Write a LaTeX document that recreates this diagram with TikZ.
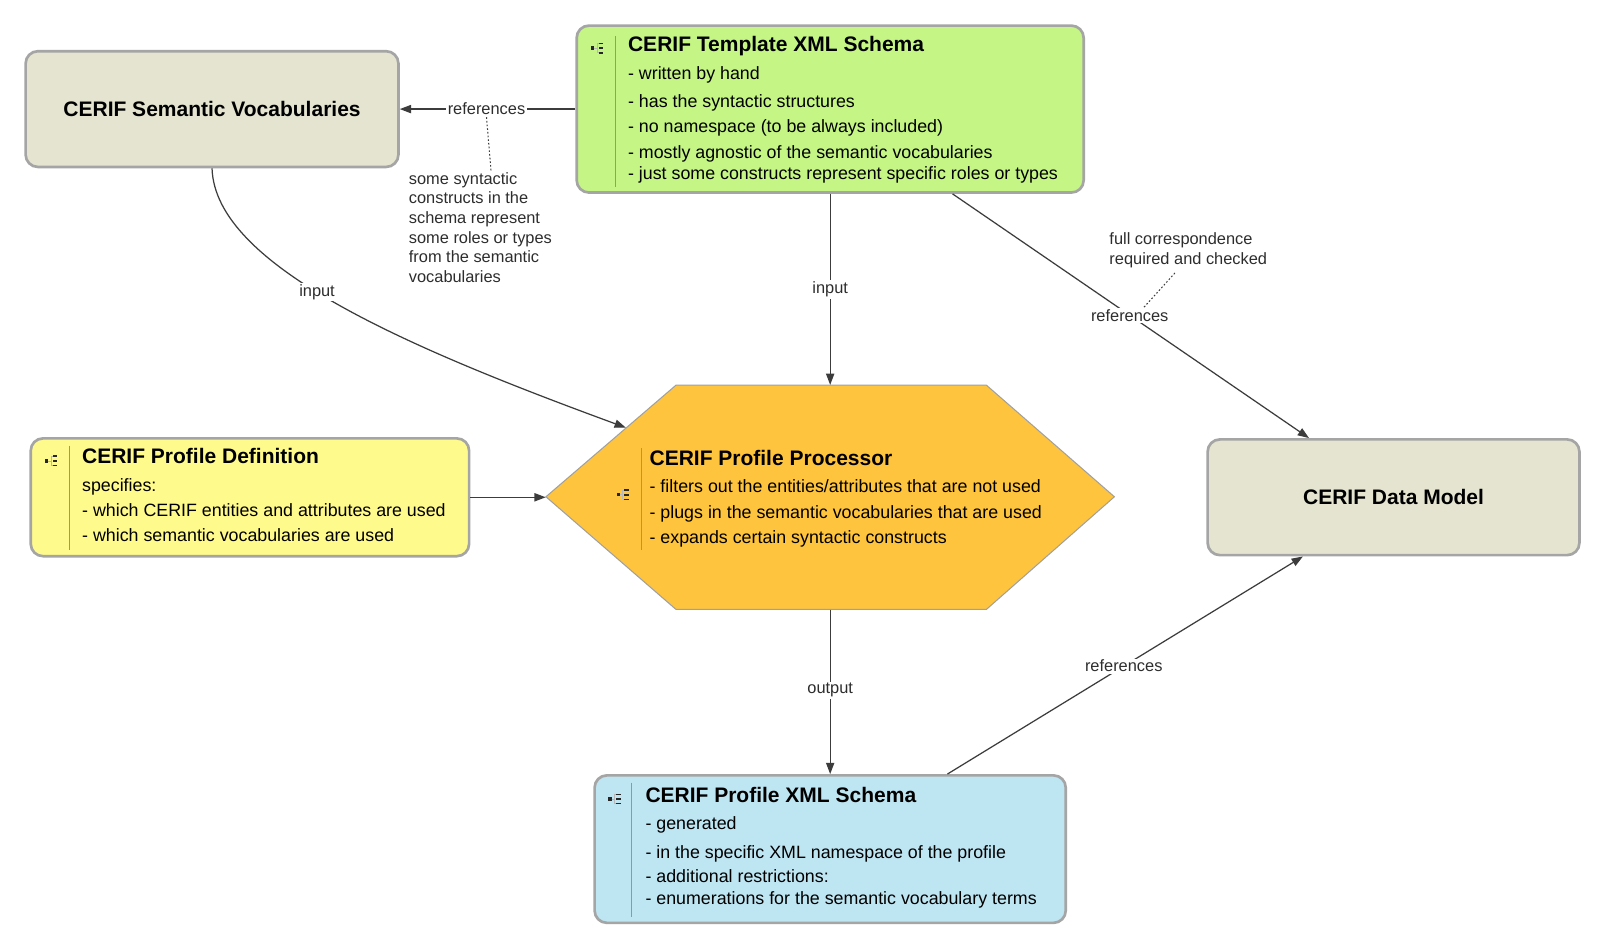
\documentclass[tikz,border=0pt]{standalone}
\usepackage{fontspec}
\setmainfont{Liberation Sans}
\usetikzlibrary{arrows.meta,calc}
\definecolor{svfill}{RGB}{228,228,208}
\definecolor{tplfill}{RGB}{196,245,133}
\definecolor{pdfill}{RGB}{255,250,140}
\definecolor{procfill}{RGB}{254,196,62}
\definecolor{pxfill}{RGB}{190,229,242}
\definecolor{boxgray}{RGB}{165,165,165}
\definecolor{hexgray}{RGB}{160,160,160}
\definecolor{linegray}{RGB}{60,60,60}
\definecolor{labgray}{RGB}{45,45,45}
\definecolor{sepgray}{RGB}{150,150,150}
\begin{document}
\begin{tikzpicture}[x=1pt,y=-1pt,
  box/.style={draw=boxgray, line width=2.6pt, rounded corners=12pt, inner sep=0pt},
  bigttl/.style={font=\fontsize{20.5}{24}\selectfont\bfseries, text=black},
  ttl/.style={font=\fontsize{20.5}{24}\selectfont\bfseries, text=black, inner sep=0pt, anchor=base west},
  bl/.style={font=\fontsize{17.4}{20}\selectfont, text=black, inner sep=0pt, anchor=base west},
  lbl/.style={font=\fontsize{16}{19.2}\selectfont, text=labgray, fill=white, inner sep=1.5pt},
  conn/.style={draw=linegray, line width=1.2pt},
  arr/.style={conn, -{Triangle[length=11pt,width=8pt]}},
  note/.style={font=\fontsize{16}{19.2}\selectfont, text=labgray, align=left, inner sep=0pt},
  dotconn/.style={draw=linegray, line width=1pt, dash pattern=on 1.6pt off 2pt},
  sepl/.style={draw=sepgray, line width=1pt},
  icon/.pic={
    \fill[black!85] (-6,-1.6) rectangle (-2.8,1.6);
    \draw[gray!55, line width=0.6pt] (-2.8,0) -- (0,0) (0,-4.5) -- (0,4.5) (0,-4.5) -- (1.5,-4.5) (0,4.5) -- (1.5,4.5);
    \fill[black!85] (1.5,-5.3) rectangle (6,-3.7);
    \fill[black!85] (1.5,-0.8) rectangle (6,0.8);
    \fill[black!85] (1.5,3.7) rectangle (6,5.3);
  }
]
\useasboundingbox (0,0) rectangle (1566,925);
\fill[white] (0,0) rectangle (1566,925);

% ---------- boxes ----------
\node[box, fill=svfill, minimum width=364pt, minimum height=113pt] (sv) at (207,106.5) {};
\node[bigttl] (svt) at (sv.center) {CERIF Semantic Vocabularies};

\node[box, fill=tplfill, minimum width=495pt, minimum height=163pt] (tpl) at (810.5,106.5) {};
\node[box, fill=pdfill, minimum width=428pt, minimum height=115pt] (pd) at (244,485.5) {};
\node[box, fill=svfill, minimum width=363pt, minimum height=113pt] (dm) at (1360.5,485.5) {};
\node[bigttl] (dmt) at (dm.center) {CERIF Data Model};
\node[box, fill=pxfill, minimum width=460pt, minimum height=144pt] (px) at (810.5,829) {};

% hexagon
\filldraw[fill=procfill, draw=hexgray, line width=1pt]
  (533,485) -- (660,376) -- (963,376) -- (1088,485) -- (963,595) -- (660,595) -- cycle;
\node[minimum width=555pt, minimum height=219pt, inner sep=0pt] (proc) at (810.5,485.5) {};
\coordinate (procin) at (611,417.5);

% ---------- icons and separators ----------
\pic at (583,47) {icon};
\draw[sepl] (601,35) -- (601,183);
\pic at (50,450) {icon};
\draw[sepl] (68,435) -- (68,537);
\pic at (608,483) {icon};
\draw[sepl] (626,437) -- (626,537);
\pic at (600,780) {icon};
\draw[sepl] (617,764) -- (617,895);

% ---------- texts ----------
\node[ttl] (tpl0) at (613,50) {CERIF Template XML Schema};
\node[bl] (tpl1) at (613,77.4) {- written by hand};
\node[bl] (tpl2) at (613,104.8) {- has the syntactic structures};
\node[bl] (tpl3) at (613,129.6) {- no namespace (to be always included)};
\node[bl] (tpl4) at (613,154.5) {- mostly agnostic of the semantic vocabularies};
\node[bl] (tpl5) at (613,175) {- just some constructs represent specific roles or types};

\node[ttl] (pd0) at (80,453) {CERIF Profile Definition};
\node[bl] (pd1) at (80,480) {specifies:};
\node[bl] (pd2) at (80,504) {- which CERIF entities and attributes are used};
\node[bl] (pd3) at (80,529) {- which semantic vocabularies are used};

\node[ttl] (pr0) at (634,454) {CERIF Profile Processor};
\node[bl] (pr1) at (634,481) {- filters out the entities/attributes that are not used};
\node[bl] (pr2) at (634,506) {- plugs in the semantic vocabularies that are used};
\node[bl] (pr3) at (634,531) {- expands certain syntactic constructs};

\node[ttl] (px0) at (630,783) {CERIF Profile XML Schema};
\node[bl] (px1) at (630,810) {- generated};
\node[bl] (px2) at (630,838) {- in the specific XML namespace of the profile};
\node[bl] (px3) at (630,862) {- additional restrictions:};
\node[bl] (px4) at (630,883) {- enumerations for the semantic vocabulary terms};

% ---------- notes ----------
\node[note, anchor=north west] (noteA) at (399,168) {some syntactic\\constructs in the\\schema represent\\some roles or types\\from the semantic\\vocabularies};
\node[note, anchor=north west] (noteB) at (1083,227) {full correspondence\\required and checked};

% ---------- connectors ----------
\draw[arr] (tpl.west) -- node[lbl, pos=0.506] (refA) {references} (sv.east);
\draw[dotconn] (refA.south) -- ($(noteA.north)+(10.5,0)$);

\draw[arr] (sv.south) .. controls (210,260) and (400,340) .. node[lbl, pos=0.45] (inA) {input} (procin);

\draw[arr] (tpl.south) -- node[lbl, pos=0.5] (inB) {input} (proc.north);

\draw[arr] ([xshift=119.5pt]tpl.south) -- node[lbl, pos=0.497] (refB) {references} ([xshift=-82.5pt]dm.north);
\draw[dotconn] ($(refB.north)+(14,0)$) -- ($(noteB.south west)+(65,4)$);

\draw[arr] (pd.east) -- (proc.west);

\draw[arr] (proc.south) -- node[lbl, pos=0.49] (outA) {output} (px.north);

\draw[arr] ([xshift=114.5pt]px.north) -- node[lbl, pos=0.496] (refC) {references} ([xshift=-88.5pt]dm.south);

\end{tikzpicture}
\end{document}
